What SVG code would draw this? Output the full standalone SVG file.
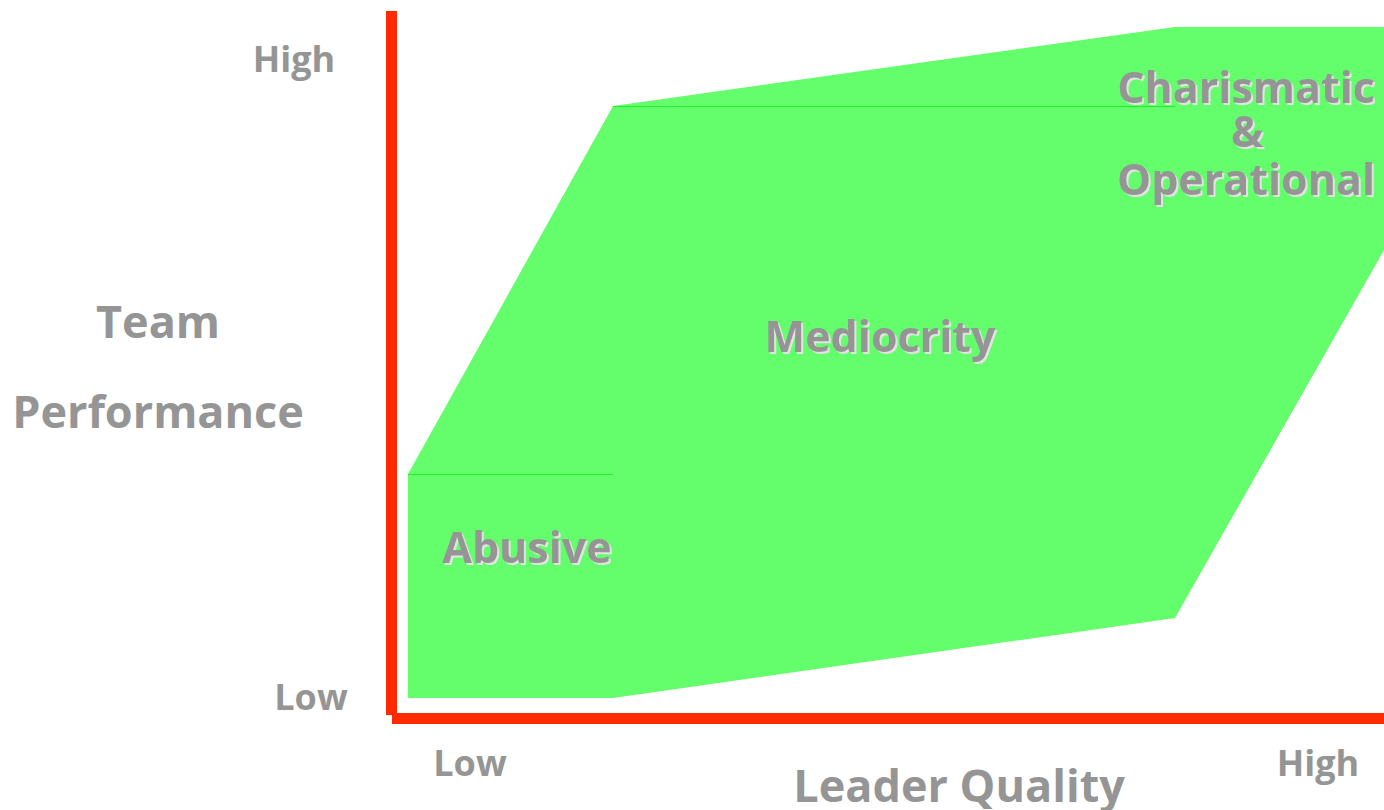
<svg xmlns="http://www.w3.org/2000/svg" width="1384" height="810" viewBox="0 0 1384 810">
<style>
.ax{font-family:"Open Sans","Liberation Sans",sans-serif;font-weight:bold;fill:#959595;text-anchor:middle}
.lb{font-family:"Open Sans","Liberation Sans",sans-serif;font-weight:bold;fill:#959595;text-anchor:middle;font-size:43px;filter:url(#shadow)}
</style>
<defs>
<filter id="shadow" x="-10%" y="-20%" width="120%" height="140%">
<feOffset in="SourceAlpha" dx="2" dy="2" result="off"/>
<feFlood flood-color="#e2e2e2"/>
<feComposite in2="off" operator="in" result="sh"/>
<feMerge><feMergeNode in="sh"/><feMergeNode in="SourceGraphic"/></feMerge>
</filter>
</defs>
<rect width="1384" height="810" fill="#ffffff"/>
<g id="regions">
<polygon points="408,474 613,106 1175,27 1384,27 1384,250 1175,618 613,698 408,698" fill="#64fd6b"/>
<line x1="613" y1="106.5" x2="1175" y2="106.5" stroke="#22ee2a" stroke-width="1"/>
<line x1="408" y1="474.5" x2="613" y2="474.5" stroke="#22ee2a" stroke-width="1"/>
</g>
<g id="axes">
<rect x="386" y="11" width="11" height="704" fill="#ff2a00"/>
<rect x="392" y="713" width="992" height="11" fill="#ff2a00"/>
</g>
<g id="axis-labels">
<text class="ax" x="294" y="72" font-size="36">High</text>
<text class="ax" x="311" y="710" font-size="36">Low</text>
<text class="ax" x="470" y="776" font-size="36">Low</text>
<text class="ax" x="1318" y="776" font-size="36">High</text>
<text class="ax" x="959" y="802" font-size="45">Leader Quality</text>
<text class="ax" x="158" y="338" font-size="45">Team</text>
<text class="ax" x="158" y="428" font-size="45">Performance</text>
</g>
<g id="node-mediocrity">
<text class="lb" x="880" y="352">Mediocrity</text>
</g>
<g id="node-abusive">
<text class="lb" x="527" y="563">Abusive</text>
</g>
<g id="node-charismatic">
<text class="lb" x="1246" y="103">Charismatic</text>
<text class="lb" x="1247" y="147">&amp;</text>
<text class="lb" x="1246" y="195">Operational</text>
</g>
</svg>
